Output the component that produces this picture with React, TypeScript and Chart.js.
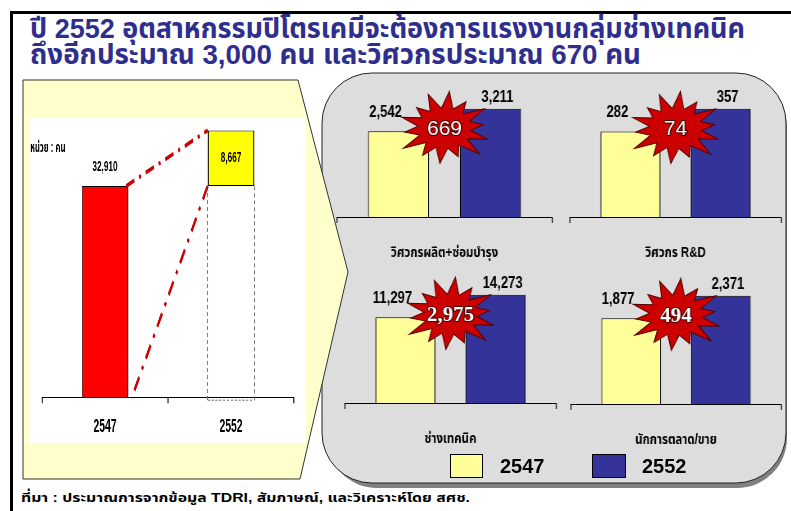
import React, { useEffect, useRef } from 'react';
import { Chart, registerables } from 'chart.js';
Chart.register(...registerables);

// ---------------- data ----------------
const totalYears = ['2547', '2552'];
const baseWorkers = [32910, 32910];
const additionalWorkers = [null, 8667];
const unitLabel = 'หน่วย : คน';

const groupNames = ['วิศวกรผลิต+ซ่อมบำรุง', 'วิศวกร R&D', 'ช่างเทคนิค', 'นักการตลาด/ขาย'];
const seriesYears = ['2547', '2552'];
const workers2547 = [2542, 282, 11297, 1877];
const workers2552 = [3211, 357, 14273, 2371];
const increaseLabels = ['669', '74', '2,975', '494'];

const titleLines = [
  'ปี 2552 อุตสาหกรรมปิโตรเคมีจะต้องการแรงงานกลุ่มช่างเทคนิค',
  'ถึงอีกประมาณ 3,000 คน และวิศวกรประมาณ 670 คน',
];
const sourceNote = 'ที่มา : ประมาณการจากข้อมูล TDRI, สัมภาษณ์, และวิเคราะห์โดย สศช.';

// ---------------- style ----------------
const FONT = '"Liberation Sans", Arial, "Noto Sans Thai", "Noto Sans", sans-serif';
const YELLOW = '#FFFF99';
const BLUE = '#333399';
const fmt = (v: number) => v.toLocaleString('en-US');

function drawStar(ctx: CanvasRenderingContext2D, rx: number, ry: number) {
  const n = 14;
  const outer = [1.0, 0.84, 0.97, 0.8, 0.92, 1.0, 0.82, 0.95, 0.86, 1.0, 0.82, 0.92, 0.8, 0.97];
  ctx.beginPath();
  for (let k = 0; k < 2 * n; k++) {
    const ang = -Math.PI / 2 + (k * Math.PI) / n + 0.1;
    const r = k % 2 === 0 ? outer[k / 2] : 0.54;
    const px = Math.cos(ang) * rx * r;
    const py = Math.sin(ang) * ry * r;
    if (k === 0) ctx.moveTo(px, py);
    else ctx.lineTo(px, py);
  }
  ctx.closePath();
  ctx.fillStyle = '#CC0000';
  ctx.fill();
  ctx.strokeStyle = '#5a0000';
  ctx.lineWidth = 1;
  ctx.stroke();
}

function subPlugin(i: number, sx: number) {
  return {
    id: 'subLabels' + i,
    afterDatasetsDraw(chart: any) {
      const ctx: CanvasRenderingContext2D = chart.ctx;
      const a = chart.getDatasetMeta(0).data[0];
      const b = chart.getDatasetMeta(1).data[0];
      const cx = (a.x + b.x) / 2;
      const cy = a.y - 3;
      ctx.save();
      ctx.translate(cx, cy);
      ctx.scale(1 / sx, 1);
      drawStar(ctx, 49, 37);
      ctx.font = i >= 2 ? 'bold 21px "Liberation Serif", "Times New Roman", serif' : '21px "Liberation Sans", Arial, sans-serif';
      ctx.textAlign = 'center';
      ctx.textBaseline = 'middle';
      ctx.lineWidth = 2;
      ctx.strokeStyle = '#4a0000';
      ctx.strokeText(increaseLabels[i], 0, 1);
      ctx.fillStyle = '#fff';
      ctx.fillText(increaseLabels[i], 0, 1);
      ctx.restore();

      ctx.save();
      ctx.font = 'bold 16px ' + FONT;
      ctx.fillStyle = '#000';
      ctx.textAlign = 'center';
      ctx.textBaseline = 'middle';
      ctx.fillText(fmt(workers2547[i]), a.x - 13 / sx, a.y - 19);
      ctx.fillText(fmt(workers2552[i]), b.x + 7 / sx, b.y - 11);
      ctx.restore();
    },
  };
}

const SUB_SX = 0.82;
const SUB_PT = 25;
const SUB_H = 130;
const SUB_PAD = 21.6;

function subConfig(i: number): any {
  const sx = SUB_SX;
  const bw = { left: 1 / sx, right: 1 / sx, top: 1, bottom: 1 };
  return {
    type: 'bar',
    data: {
      labels: [groupNames[i]],
      datasets: [
        { label: seriesYears[0], data: [workers2547[i]], backgroundColor: YELLOW, borderColor: '#000', borderWidth: bw, borderSkipped: 'bottom' },
        { label: seriesYears[1], data: [workers2552[i]], backgroundColor: BLUE, borderColor: '#000', borderWidth: bw, borderSkipped: 'bottom' },
      ],
    },
    options: {
      responsive: false,
      animation: false,
      layout: { padding: { top: SUB_PT, left: 3 / sx, right: 3 / sx, bottom: 0 } },
      plugins: { legend: { display: false }, tooltip: { enabled: false } },
      datasets: { bar: { categoryPercentage: 0.855, barPercentage: 0.665 } },
      scales: {
        x: {
          grid: { offset: true, drawOnChartArea: false, drawTicks: true, tickLength: 6, color: '#000', lineWidth: 1 / sx },
          border: { display: true, color: '#000', width: 1 },
          ticks: { color: '#000', font: { family: FONT, size: 14, weight: 'bold' }, padding: SUB_PAD, maxRotation: 0, autoSkip: false },
        },
        y: { display: false, min: 0, max: Math.max(workers2547[i], workers2552[i]) * 1.2 },
      },
    },
    plugins: [subPlugin(i, sx)],
  };
}

const LEFT_SX = 0.55;
function leftConfig(): any {
  const sx = LEFT_SX;
  const bw = { left: 1 / sx, right: 1 / sx, top: 1, bottom: 1 };
  return {
    type: 'bar',
    data: {
      labels: totalYears,
      datasets: [
        {
          label: 'base', data: baseWorkers, stack: 's',
          backgroundColor: ['#FF0000', 'rgba(0,0,0,0)'],
          borderColor: ['#000', 'rgba(0,0,0,0)'],
          borderWidth: bw, borderSkipped: 'bottom',
        },
        {
          label: 'added', data: additionalWorkers, stack: 's',
          backgroundColor: '#FFFF00', borderColor: '#000', borderWidth: bw, borderSkipped: false,
        },
      ],
    },
    options: {
      responsive: false,
      animation: false,
      layout: { padding: { top: 9.7, left: 13 / sx, right: 12 / sx, bottom: 0 } },
      plugins: { legend: { display: false }, tooltip: { enabled: false } },
      datasets: { bar: { categoryPercentage: 1, barPercentage: 0.37 } },
      scales: {
        x: {
          stacked: true,
          grid: { offset: true, drawOnChartArea: false, drawTicks: true, tickLength: 6, color: '#000', lineWidth: 1 / sx },
          border: { display: true, color: '#000', width: 1 },
          ticks: { color: '#000', font: { family: FONT, size: 19, weight: 'bold' }, padding: 12, maxRotation: 0, autoSkip: false },
        },
        y: { stacked: true, display: false, min: 0, max: 42000 },
      },
    },
    plugins: [
      {
        id: 'leftDeco',
        afterDatasetsDraw(chart: any) {
          const ctx: CanvasRenderingContext2D = chart.ctx;
          const red = chart.getDatasetMeta(0).data[0];
          const ghost = chart.getDatasetMeta(0).data[1];
          const yel = chart.getDatasetMeta(1).data[1];
          const gw = ghost.width;
          ctx.save();
          ctx.setLineDash([4, 3]);
          ctx.strokeStyle = '#666';
          ctx.lineWidth = 1 / sx;
          ctx.beginPath();
          ctx.moveTo(ghost.x - gw / 2, ghost.y);
          ctx.lineTo(ghost.x - gw / 2, ghost.base + 3);
          ctx.moveTo(ghost.x + gw / 2, ghost.base + 3);
          ctx.lineTo(ghost.x + gw / 2, ghost.y);
          ctx.stroke();
          ctx.lineWidth = 1;
          ctx.beginPath();
          ctx.moveTo(ghost.x - gw / 2, ghost.base + 3);
          ctx.lineTo(ghost.x + gw / 2, ghost.base + 3);
          ctx.stroke();
          ctx.setLineDash([16, 9, 4, 9]);
          ctx.strokeStyle = '#CC0000';
          ctx.lineWidth = 4;
          ctx.lineCap = 'butt';
          ctx.beginPath();
          ctx.moveTo(red.x + red.width / 2 - 4, red.y);
          ctx.lineTo(yel.x - yel.width / 2, yel.y);
          ctx.stroke();
          ctx.beginPath();
          ctx.moveTo(yel.x - yel.width / 2, yel.base);
          ctx.lineTo(red.x + red.width / 2 + 6, red.base + 1);
          ctx.stroke();
          ctx.restore();

          ctx.save();
          ctx.font = 'bold 15px ' + FONT;
          ctx.fillStyle = '#000';
          ctx.textAlign = 'center';
          ctx.textBaseline = 'middle';
          ctx.fillText(fmt(baseWorkers[0]), red.x, red.y - 19);
          ctx.fillText(fmt(additionalWorkers[1] as number), yel.x, (yel.y + yel.base) / 2);
          ctx.font = 'bold 14px ' + FONT;
          ctx.textAlign = 'left';
          ctx.fillText(unitLabel, 2, 30);
          ctx.restore();
        },
      },
    ],
  };
}

function ChartCanvas(props: { left: number; top: number; width: number; height: number; sx: number; build: () => any }) {
  const ref = useRef<HTMLCanvasElement>(null);
  useEffect(() => {
    const chart = new Chart(ref.current as HTMLCanvasElement, props.build());
    return () => chart.destroy();
  }, []);
  return (
    <canvas
      ref={ref}
      width={Math.round(props.width / props.sx)}
      height={props.height}
      style={{ position: 'absolute', left: props.left, top: props.top, width: props.width, height: props.height }}
    />
  );
}

function FitText(props: { text: string; left: number; top: number; width: number; style: React.CSSProperties }) {
  const ref = useRef<HTMLSpanElement>(null);
  useEffect(() => {
    const el = ref.current;
    if (!el) return;
    el.style.transform = 'none';
    const w = el.getBoundingClientRect().width;
    if (w > 0) el.style.transform = `scaleX(${props.width / w})`;
  }, []);
  return (
    <span
      ref={ref}
      style={{ position: 'absolute', left: props.left, top: props.top, whiteSpace: 'nowrap', transformOrigin: '0 0', ...props.style }}
    >
      {props.text}
    </span>
  );
}

const subBoxes = [
  { L: 337, R: 552, A: 217 },
  { L: 570, R: 781, A: 217 },
  { L: 345, R: 556, A: 403 },
  { L: 571, R: 781, A: 404 },
];

export default function App() {
  const subHeight = SUB_PT + SUB_H + 6 + 2 * SUB_PAD + 14 * 1.2;
  return (
    <div style={{ position: 'absolute', left: 0, top: 0, width: 791, height: 511, background: '#fff', overflow: 'hidden', fontFamily: FONT }}>
      <svg width={791} height={511} style={{ position: 'absolute', left: 0, top: 0 }}>
        <rect x={10} y={11} width={781} height={3} fill="#000" />
        <rect x={10} y={11} width={3} height={500} fill="#000" />
        <rect x={327} y={78} width={460} height={410} rx={50} ry={50} fill="#808080" />
        <rect x={322} y={73} width={464} height={410} rx={50} ry={50} fill="#DDDDDD" stroke="#222" strokeWidth={1} />
        <polygon points="23,80 298,80 348,272 300,479 23,479" fill="#FFFFCC" stroke="#333" strokeWidth={1} />
        <rect x={29} y={118} width={277} height={325} fill="#fff" />
      </svg>
      <FitText text={titleLines[0]} left={30} top={14} width={715} style={{ fontSize: 28, lineHeight: '30px', color: '#2E2E8E', fontWeight: 'bold' }} />
      <FitText text={titleLines[1]} left={30} top={40} width={611} style={{ fontSize: 28, lineHeight: '30px', color: '#2E2E8E', fontWeight: 'bold' }} />
      <ChartCanvas left={29} top={118} width={277} height={332} sx={LEFT_SX} build={leftConfig} />
      {subBoxes.map((b, i) => (
        <ChartCanvas key={i} left={b.L - 3} top={b.A - SUB_H - SUB_PT} width={b.R - b.L + 6} height={subHeight} sx={SUB_SX} build={() => subConfig(i)} />
      ))}
      <div style={{ position: 'absolute', left: 450, top: 454, width: 31, height: 22, background: YELLOW, border: '1px solid #000' }} />
      <span style={{ position: 'absolute', left: 500, top: 454, fontSize: 20, fontWeight: 'bold', lineHeight: '24px', color: '#000' }}>{seriesYears[0]}</span>
      <div style={{ position: 'absolute', left: 592, top: 454, width: 32, height: 22, background: BLUE, border: '1px solid #000' }} />
      <span style={{ position: 'absolute', left: 642, top: 454, fontSize: 20, fontWeight: 'bold', lineHeight: '24px', color: '#000' }}>{seriesYears[1]}</span>
      <FitText text={sourceNote} left={21} top={489} width={449} style={{ fontSize: 13, lineHeight: '18px', color: '#000', fontWeight: 'bold' }} />
    </div>
  );
}
